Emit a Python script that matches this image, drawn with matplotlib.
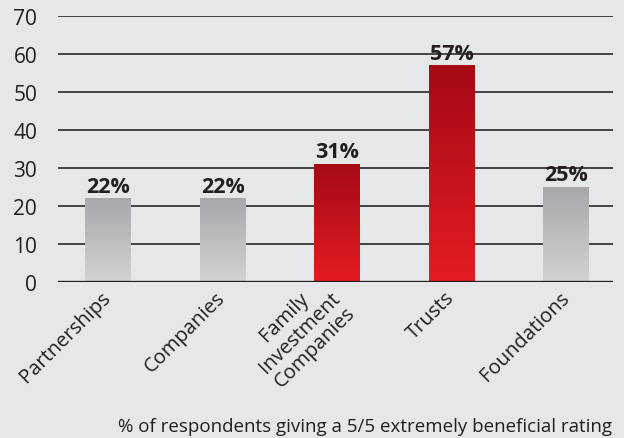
import numpy as np
import matplotlib
matplotlib.use("Agg")
import matplotlib.pyplot as plt
from matplotlib.colors import LinearSegmentedColormap

plt.rcParams['font.family'] = ['Open Sans', 'DejaVu Sans']

# データ
categories = ['Partnerships', 'Companies', 'Family\nInvestment\nCompanies', 'Trusts', 'Foundations']
values = [22, 22, 31, 57, 25]
highlight = [False, False, True, True, False]
y_ticks = [0, 10, 20, 30, 40, 50, 60, 70]
caption = '% of respondents giving a 5/5 extremely beneficial rating'

# 色の定義
BG = '#e6e7e8'
GRID = '#2a2627'
GRAY_GRAD = LinearSegmentedColormap.from_list('gray_grad', ['#d2d3d5', '#a7a8ab'])
RED_GRAD = LinearSegmentedColormap.from_list('red_grad', ['#e41c24', '#a50a15'])

fig = plt.figure(figsize=(6.24, 4.39), dpi=100, facecolor=BG)
ax = fig.add_axes([0.093, 0.3554, 0.889, 0.6052])
ax.set_facecolor(BG)

x = np.arange(len(categories))
bars = ax.bar(x, values, width=0.40, color='none', edgecolor='none', zorder=3)

# 棒をグラデーションで塗る
grad = np.linspace(0, 1, 256).reshape(-1, 1)
for bar, hl in zip(bars, highlight):
    bx, bw, bh = bar.get_x(), bar.get_width(), bar.get_height()
    ax.imshow(grad, cmap=RED_GRAD if hl else GRAY_GRAD, origin='lower',
              extent=[bx, bx + bw, 0, bh], aspect='auto', zorder=3)

# 値ラベル
for xi, v in zip(x, values):
    ax.annotate(f'{v}%', (xi, v), xytext=(0, 5), textcoords='offset points',
                ha='center', va='baseline', fontsize=15.5, fontweight='bold',
                color='#231f20', zorder=4)

# 目盛り線
for t in y_ticks[1:]:
    ax.axhline(t, color=GRID, lw=1.2, zorder=1)
ax.axhline(0, color='#231f20', lw=2.4, zorder=5)

ax.set_xlim(-0.436, 4.406)
ax.set_ylim(0, 70)
ax.set_yticks(y_ticks)
ax.set_yticklabels([str(t) for t in y_ticks], fontsize=15, color='#231f20')
ax.tick_params(axis='y', length=0, pad=15)
ax.set_xticks(x)
ax.set_xticklabels(categories, rotation=45, ha='right', va='center',
                   rotation_mode='anchor', multialignment='center',
                   fontsize=14.5, color='#231f20', linespacing=1.1)
ax.tick_params(axis='x', length=0, pad=9)
for s in ax.spines.values():
    s.set_visible(False)

fig.text(0.981, 0.016, caption, ha='right', va='baseline', fontsize=13.5, color='#231f20')

fig.savefig('out.png', dpi=100, facecolor=BG)
